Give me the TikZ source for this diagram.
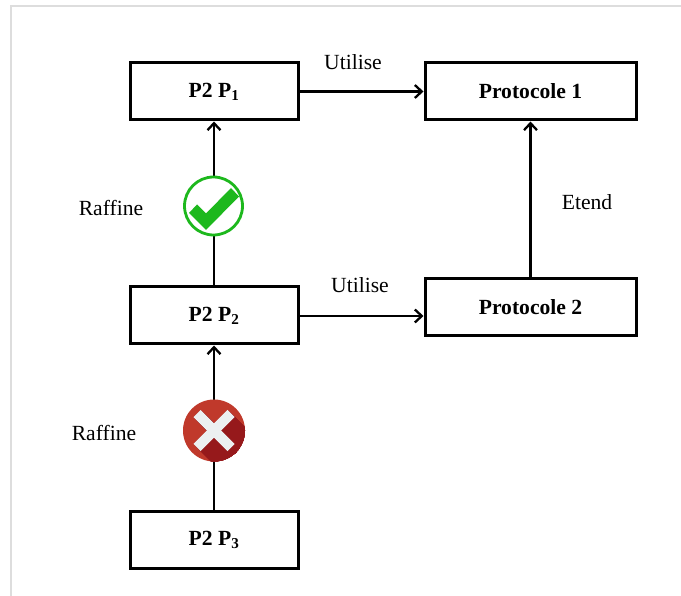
\documentclass[tikz,border=0pt]{standalone}
\usepackage{fontspec}
\setmainfont{Liberation Serif}
\usetikzlibrary{arrows.meta}

\definecolor{okgreen}{HTML}{1DB81D}
\definecolor{nored}{HTML}{C0392B}
\definecolor{noshade}{HTML}{96191B}
\definecolor{nowhite}{HTML}{ECF0F1}
\definecolor{framegray}{HTML}{DDDDDD}

\tikzset{
  boxnode/.style={draw, line width=3pt, fill=white, minimum height=57pt,
    font=\fontsize{21.6}{25}\selectfont\bfseries, inner sep=0pt},
  labnode/.style={font=\fontsize{21.6}{25}\selectfont},
  link/.style={line width=2.3pt, -{Straight Barb[length=7pt,width=13pt,line width=2.3pt]}}
}

\begin{document}
\begin{tikzpicture}[x=1pt,y=-1pt]
  \useasboundingbox (0,0) rectangle (681,596);
  \draw[framegray, line width=1.2pt] (11,596) -- (11,6) -- (681,6);

  % Draw boxes
  \node[boxnode, minimum width=168pt] (pun) at (214,91.5) {P2 P\textsubscript{1}};
  \node[boxnode, minimum width=168pt] (pdeux) at (214,315.5) {P2 P\textsubscript{2}};
  \node[boxnode, minimum width=168pt] (ptrois) at (214,539.5) {P2 P\textsubscript{3}};
  \node[boxnode, minimum width=211pt] (protoun) at (530.5,91.5) {Protocole 1};
  \node[boxnode, minimum width=211pt] (protodeux) at (530.5,307.5) {Protocole 2};

  % Connect boxes
  \draw[link] (pun.east) -- (protoun.west);
  \draw[link] (pdeux.east |- 0,316) -- (protodeux.west |- 0,316);
  \draw[link] (protodeux.north) -- (protoun.south);
  \draw[link] (pdeux.north) -- (pun.south);
  \draw[link] (ptrois.north) -- (pdeux.south);

  % Labels
  \node[labnode] (utun) at (353,62) {Utilise};
  \node[labnode] (utdeux) at (360,285) {Utilise};
  \node[labnode] (etend) at (587,202) {Etend};
  \node[labnode] (rafun) at (111,208) {Raffine};
  \node[labnode] (rafdeux) at (104,433) {Raffine};

  % Check mark
  \node[circle, draw=okgreen, line width=2.8pt, fill=white, minimum size=58pt] (ok) at (213.5,206) {};
  \fill[okgreen] (189,213) -- (197,204.5) -- (206,213.5) -- (231,188) -- (239,196.5) -- (206,230) -- cycle;

  % Cross mark
  \node[circle, fill=nored, minimum size=62pt, inner sep=0pt] (no) at (214,430.5) {};
  \begin{scope}
    \clip (214,430.5) circle (31pt);
    \foreach \s in {0,1,...,40} {
      \draw[noshade, line width=10pt] (214+\s-17,430.5+\s-17) -- (214+\s+17,430.5+\s+17);
      \draw[noshade, line width=10pt] (214+\s+17,430.5+\s-17) -- (214+\s-17,430.5+\s+17);
    }
  \end{scope}
  \draw[nowhite, line width=10pt] (197,413.5) -- (231,447.5);
  \draw[nowhite, line width=10pt] (231,413.5) -- (197,447.5);

\end{tikzpicture}
\end{document}
